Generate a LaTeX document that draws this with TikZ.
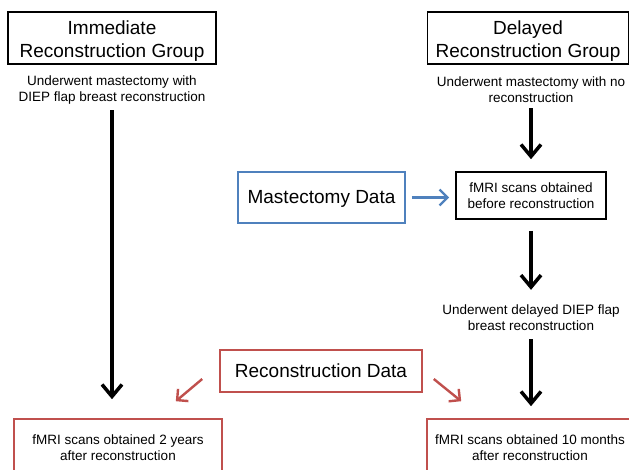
\documentclass[tikz,border=0pt]{standalone}
\usepackage{fontspec}
\setmainfont{Liberation Sans}
\usetikzlibrary{arrows.meta}
\definecolor{boxblue}{RGB}{79,129,189}
\definecolor{boxred}{RGB}{192,80,77}

\begin{document}
\begin{tikzpicture}[x=1pt,y=-1pt,
  grouphead/.style={draw, line width=1.6pt, align=center, inner sep=0pt, font=\fontsize{19}{23}\selectfont},
  note/.style={align=center, inner sep=0pt, font=\fontsize{13.5}{16}\selectfont},
  scanbox/.style={draw, line width=1.6pt, align=center, inner sep=0pt, font=\fontsize{13.5}{16}\selectfont},
  databox/.style={draw, line width=1.6pt, inner sep=0pt, font=\fontsize{19}{23}\selectfont},
  flow/.style={-{Straight Barb[length=12pt,width=20pt]}, line width=3.5pt},
  link/.style={-{Straight Barb[length=8pt,width=16pt]}, line width=2.4pt}]
\useasboundingbox (0,0) rectangle (629,469);
\clip (0,0) rectangle (629,469);
% group headings
\node[grouphead, minimum width=208pt, minimum height=52pt] (imm) at (112,38) {\rule{0pt}{20pt}Immediate\\Reconstruction Group};
\node[grouphead, minimum width=201pt, minimum height=52pt] (del) at (528,38) {\rule{0pt}{20pt}Delayed\\Reconstruction Group};
\node[note] (immsub) at (112,90) {Underwent mastectomy with\\DIEP flap breast reconstruction};
\node[note] (delsub) at (531,90) {Underwent mastectomy with no\\reconstruction};
% scans
\node[databox, draw=boxblue, minimum width=167pt, minimum height=51pt] (mast) at (321.5,197.5) {\rule{0pt}{16pt}Mastectomy Data};
\node[scanbox, minimum width=150pt, minimum height=47pt] (pre) at (531,195.5) {fMRI scans obtained\\before reconstruction};
\node[note] (delrec) at (531,318) {Underwent delayed DIEP flap\\breast reconstruction};
\node[databox, draw=boxred, minimum width=202pt, minimum height=42pt] (recdata) at (321,371) {Reconstruction Data};
\node[scanbox, draw=boxred, minimum width=208pt, minimum height=58pt] (post2) at (118,448) {fMRI scans obtained 2 years\\after reconstruction};
\node[scanbox, draw=boxred, minimum width=206pt, minimum height=58pt] (post10) at (530,448) {fMRI scans obtained 10 months\\after reconstruction};
% arrows
\draw[flow] ([yshift=-6pt]immsub.south) -- ([yshift=19pt]immsub.south |- post2.north);
\draw[flow] ([yshift=-5pt]delsub.south) -- ([yshift=12pt]pre.north);
\draw[flow] ([yshift=-11pt]pre.south) -- ([yshift=15pt]delrec.north);
\draw[flow] ([yshift=-8pt]delrec.south) -- ([yshift=12pt]delrec.south |- post10.north);
\draw[link, boxblue] ([xshift=6pt]mast.east) -- ([xshift=-6pt]mast.east -| pre.west);
\draw[link, boxred] ([xshift=-17pt,yshift=-8pt]recdata.west) -- ([xshift=-47pt,yshift=17pt]post2.north east);
\draw[link, boxred] ([xshift=11pt,yshift=-8pt]recdata.east) -- ([xshift=35pt,yshift=17pt]post10.north west);
\end{tikzpicture}
\end{document}
